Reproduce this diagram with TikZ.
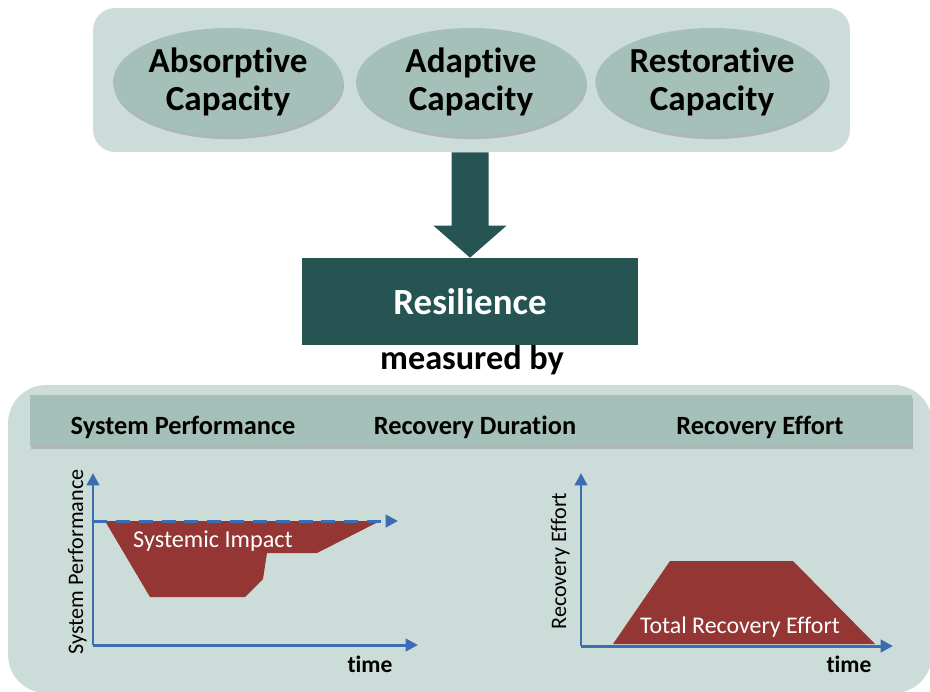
\documentclass[tikz,border=0pt]{standalone}
\usepackage{fontspec}
\setmainfont{Carlito}[RawFeature=-liga]
\usetikzlibrary{arrows.meta,shadows,shapes.geometric,calc}

\definecolor{panelgray}{HTML}{CCDCD9}
\definecolor{capfill}{HTML}{A5BFB9}
\definecolor{resteal}{HTML}{265453}
\definecolor{impactred}{HTML}{943634}
\definecolor{axisblue}{HTML}{3C6DB2}

\tikzset{
  capacity/.style={ellipse, fill=capfill, minimum width=4.6cm, minimum height=2.16cm,
    inner sep=0pt, align=center, font=\bfseries\fontsize{20}{22}\selectfont,
    drop shadow={opacity=0.4, shadow xshift=0.6pt, shadow yshift=-1.8pt}},
  measure/.style={anchor=base, font=\bfseries\fontsize{15}{17}\selectfont},
  axis/.style={axisblue, line width=1.7pt, -{Triangle[length=7pt,width=7pt]}},
  ylab/.style={rotate=90, anchor=base, font=\fontsize{12.6}{14}\selectfont},
  timelab/.style={anchor=base, font=\bfseries\fontsize{13.4}{15}\selectfont}
}

\begin{document}
\begin{tikzpicture}[x=0.02cm, y=-0.02cm]
            \useasboundingbox (0,0) rectangle (930,691);
            % capacities
            \node[fill=panelgray, rounded corners=0.44cm, minimum width=15.14cm, minimum height=2.88cm, inner sep=0pt] (capbox) at (471.5,80) {};
            \node[capacity] (absorb) at (228,82) {Absorptive\\Capacity};
            \node[capacity] (adapt) at (471,82) {Adaptive\\Capacity};
            \node[capacity] (restore) at (712,82) {Restorative\\Capacity};

            \node[fill=resteal, text=white, minimum width=6.72cm, minimum height=1.74cm, inner sep=0pt,
                  font=\bfseries\fontsize{21}{23}\selectfont] (res) at (470,301.5) {Resilience};
            \coordinate (atop) at (capbox.south -| res.north);
            \fill[resteal] ($(atop)+(-18.5,0)$) -- ($(res.north)+(-18.5,-32)$) -- ($(res.north)+(-36.5,-32)$)
                -- (res.north) -- ($(res.north)+(36.5,-32)$) -- ($(res.north)+(18.5,-32)$) -- ($(atop)+(18.5,0)$) -- cycle;
            \node[anchor=base, font=\bfseries\fontsize{19.5}{21}\selectfont] (measby) at (472,369) {measured by};

            % measures
            \node[fill=panelgray, rounded corners=0.76cm, minimum width=18.48cm, minimum height=6.16cm, inner sep=0pt] (measbox) at (470,539) {};
            \node[fill=capfill, minimum width=17.64cm, minimum height=1.02cm, inner sep=0pt,
                  drop shadow={opacity=0.4, shadow xshift=0.5pt, shadow yshift=-1.6pt}] (hdr) at (471,420.5) {};
            \node[measure] (perf) at (183,434) {System Performance};
            \node[measure] (dur) at (475,434) {Recovery Duration};
            \node[measure] (effort) at (760,434) {Recovery Effort};

            % system performance chart
            \coordinate (o1) at (93,645);
            \coordinate (base1) at (93,521);
            \fill[impactred] (105,521) -- (150,597) -- (245,597) -- (263,579) -- (267,553) -- (317,553) -- (380,521) -- cycle;
            \draw[axis] (o1) -- (93,473);
            \draw[axis] (o1) -- (418,645);
            \draw[axis, dash pattern=on 8pt off 5pt] (base1) -- (398,521);
            \node[anchor=base west, text=white, font=\fontsize{13.8}{15}\selectfont] (impact) at (127,547) {Systemic Impact};
            \node[ylab] (perfaxis) at (83,562) {System Performance};
            \node[timelab] (time1) at (370,672) {time};

            % recovery effort chart
            \coordinate (o2) at (581,646);
            \fill[impactred] (613,644) -- (670,561) -- (793,561) -- (875,644) -- cycle;
            \draw[axis] (o2) -- (581,473);
            \draw[axis] (o2) -- (893,646);
            \node[anchor=base, text=white, font=\fontsize{13.6}{15}\selectfont] (total) at (740,633) {Total Recovery Effort};
            \node[ylab] (effaxis) at (566,561) {Recovery Effort};
            \node[timelab] (time2) at (849,672) {time};
        \end{tikzpicture}
\end{document}
